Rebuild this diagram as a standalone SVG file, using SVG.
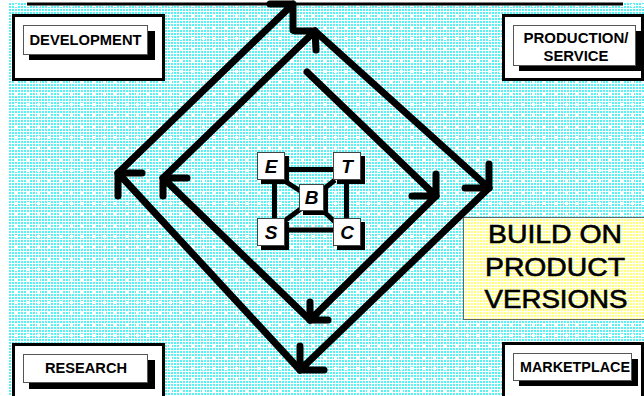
<svg xmlns="http://www.w3.org/2000/svg" width="644" height="396" viewBox="0 0 644 396">
<defs>
  <pattern id="fineC" width="3" height="3" patternUnits="userSpaceOnUse">
    <rect width="3" height="3" fill="#ffffff"/>
    <rect width="2" height="2" fill="#55f2f6"/>
  </pattern>
  <pattern id="dotsC" width="11" height="11" patternUnits="userSpaceOnUse">
    <rect x="4" y="4" width="3" height="3" fill="#ffffff"/>
  </pattern>
  <pattern id="fineY" width="3" height="3" patternUnits="userSpaceOnUse">
    <rect width="3" height="3" fill="#ffffff"/>
    <rect width="2" height="2" fill="#ffff78"/>
  </pattern>
  <style>
    .arw{fill:none;stroke:#000;stroke-width:7;stroke-linecap:round;stroke-linejoin:round}
    .frame{fill:#fff;stroke:#000;stroke-width:3}
    .lab{fill:#fff;stroke:#555;stroke-width:1}
    .shd{fill:#000}
    .lt{font-family:"Liberation Sans",Arial,sans-serif;font-weight:bold;font-size:14px;fill:#000;text-anchor:middle}
    .big{font-family:"Liberation Sans",Arial,sans-serif;font-size:25px;fill:#000;stroke:#000;stroke-width:0.6;text-anchor:middle}
    .lk{stroke:#000;stroke-width:5;fill:none}
    .sq{fill:#fff;stroke:#444;stroke-width:1}
    .let{font-family:"Liberation Sans",Arial,sans-serif;font-weight:bold;font-style:italic;font-size:19px;fill:#000;text-anchor:middle}
  </style>
</defs>

<rect x="9" y="3" width="635" height="393" fill="url(#fineC)"/>
<rect x="9" y="3" width="635" height="393" fill="url(#dotsC)"/>
<line x1="27" y1="4" x2="623" y2="4" stroke="#000" stroke-width="3"/>

<g id="development">
  <rect class="frame" x="13.5" y="15.5" width="150" height="64"/>
  <rect class="shd" x="29" y="31" width="126" height="29"/>
  <rect class="lab" x="23.5" y="25.5" width="124" height="29"/>
  <text class="lt" x="85.5" y="45" textLength="112" lengthAdjust="spacingAndGlyphs">DEVELOPMENT</text>
</g>

<g id="production">
  <rect class="frame" x="503.5" y="15.5" width="139" height="64"/>
  <rect class="shd" x="519" y="31" width="122" height="40"/>
  <rect class="lab" x="513.5" y="25.5" width="122" height="40"/>
  <text class="lt" x="576" y="43" textLength="105" lengthAdjust="spacingAndGlyphs">PRODUCTION/</text>
  <text class="lt" x="576" y="61" textLength="65" lengthAdjust="spacingAndGlyphs">SERVICE</text>
</g>

<g id="research">
  <rect class="frame" x="13.5" y="344.5" width="150" height="60"/>
  <rect class="shd" x="29" y="360" width="126" height="29"/>
  <rect class="lab" x="23.5" y="354.5" width="124" height="28"/>
  <text class="lt" x="86" y="373" textLength="82" lengthAdjust="spacingAndGlyphs">RESEARCH</text>
</g>

<g id="marketplace">
  <rect class="frame" x="503.5" y="343.5" width="139" height="60"/>
  <rect class="shd" x="519" y="359" width="119" height="27"/>
  <rect class="lab" x="513.5" y="353.5" width="118" height="27"/>
  <text class="lt" x="575" y="372" textLength="110" lengthAdjust="spacingAndGlyphs">MARKETPLACE</text>
</g>

<g id="build">
  <rect x="463.5" y="217.5" width="190" height="102" fill="url(#fineY)" stroke="#666" stroke-width="1"/>
  <text class="big" x="555" y="243" textLength="134" lengthAdjust="spacingAndGlyphs">BUILD ON</text>
  <text class="big" x="555" y="276" textLength="140" lengthAdjust="spacingAndGlyphs">PRODUCT</text>
  <text class="big" x="556" y="308" textLength="143" lengthAdjust="spacingAndGlyphs">VERSIONS</text>
</g>

<g id="connectors">
  <path class="arw" d="M307,72 L436,196 M412,196 L436,196 L436,174"/>
  <path class="arw" d="M436,196 L310,320 M310,302 L310,320 L328,320"/>
  <path class="arw" d="M310,320 L163,178 M187,178 L163,178 L163,196"/>
  <path class="arw" d="M163,178 L315,31 M295,31 L315,31 L316,50"/>
  <path class="arw" d="M315,31 L489,188 M465,188 L489,188 L489,164"/>
  <path class="arw" d="M489,188 L300,370 M300,346 L300,370 L324,370"/>
  <path class="arw" d="M300,370 L118,173 M142,173 L118,173 L118,196"/>
  <path class="arw" d="M118,173 L293,4 M270,4 L293,4 L293,30"/>
</g>

<g id="cluster-links">
  <line class="lk" x1="285" y1="169.5" x2="333" y2="169.5"/>
  <line class="lk" x1="285" y1="230" x2="333" y2="230"/>
  <line class="lk" x1="274.5" y1="180" x2="274.5" y2="218"/>
  <line class="lk" x1="346.5" y1="180" x2="346.5" y2="218"/>
  <line class="lk" x1="283" y1="180" x2="302" y2="192"/>
  <line class="lk" x1="335" y1="180" x2="320" y2="192"/>
  <line class="lk" x1="283" y1="222" x2="302" y2="208"/>
  <line class="lk" x1="335" y1="222" x2="320" y2="208"/>
</g>

<g id="E">
  <rect class="shd" x="261" y="156" width="28" height="28"/>
  <rect class="sq" x="257.5" y="152.5" width="27" height="27"/>
  <text class="let" x="271" y="173">E</text>
</g>
<g id="T">
  <rect class="shd" x="337" y="156" width="28" height="28"/>
  <rect class="sq" x="333.5" y="152.5" width="27" height="27"/>
  <text class="let" x="347" y="173">T</text>
</g>
<g id="B">
  <rect class="shd" x="303" y="188" width="25" height="27"/>
  <rect class="sq" x="299.5" y="184.5" width="24" height="26"/>
  <text class="let" x="311.5" y="204">B</text>
</g>
<g id="S">
  <rect class="shd" x="261" y="222" width="28" height="28"/>
  <rect class="sq" x="257.5" y="218.5" width="27" height="27"/>
  <text class="let" x="271" y="239">S</text>
</g>
<g id="C">
  <rect class="shd" x="337" y="222" width="28" height="28"/>
  <rect class="sq" x="333.5" y="218.5" width="27" height="27"/>
  <text class="let" x="347" y="239">C</text>
</g>
</svg>
